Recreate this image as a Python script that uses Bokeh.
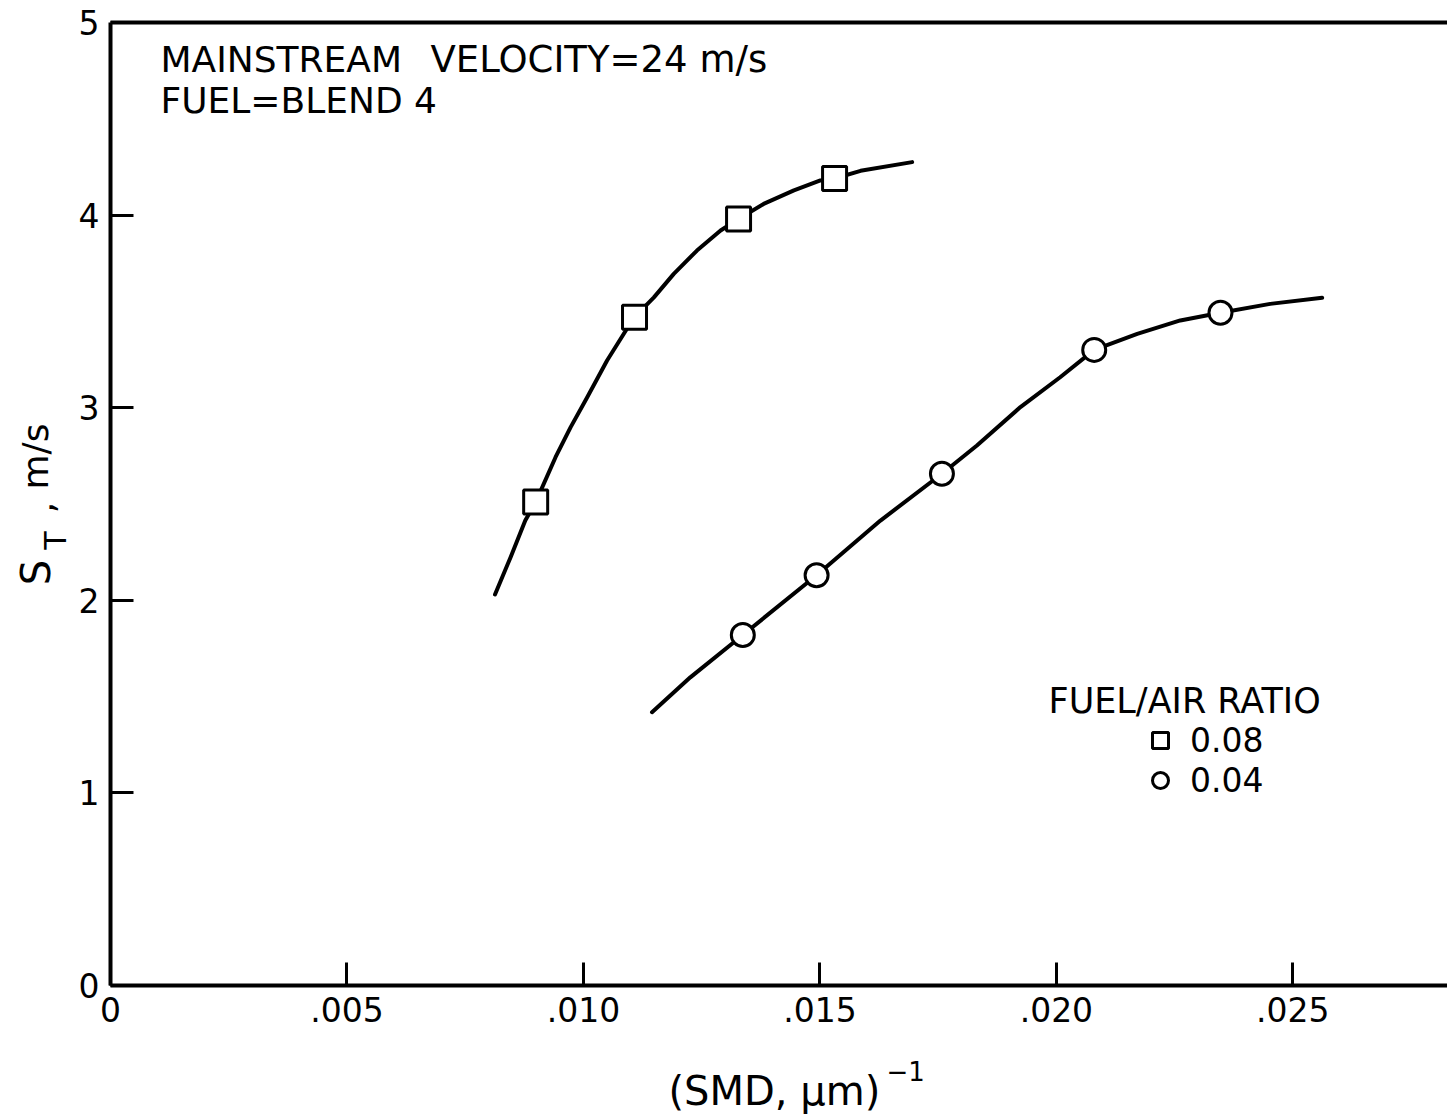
import math
from bokeh.plotting import figure
from bokeh.models import Range1d, FixedTicker, LinearAxis, Label, Legend, LegendItem
from bokeh.embed import file_html
from bokeh.resources import INLINE

# ---- data ----
# Fuel/air ratio 0.08 (squares)
sq_x = [0.00899, 0.01108, 0.01328, 0.01531]
sq_y = [2.51, 3.47, 3.98, 4.19]
sq_curve_x = [0.00813, 0.00846, 0.00877, 0.00899, 0.00941, 0.00973, 0.01006, 0.01050,
              0.01092, 0.01108, 0.01149, 0.01191, 0.01240, 0.01290, 0.01328, 0.01381,
              0.01445, 0.01501, 0.01531, 0.01586, 0.01695]
sq_curve_y = [2.03, 2.224, 2.414, 2.51, 2.743, 2.899, 3.045, 3.245,
              3.41, 3.47, 3.573, 3.695, 3.816, 3.92, 3.98, 4.058,
              4.128, 4.18, 4.19, 4.23, 4.275]

# Fuel/air ratio 0.04 (circles)
ci_x = [0.01337, 0.01493, 0.01758, 0.02080, 0.02347]
ci_y = [1.82, 2.13, 2.657, 3.30, 3.493]
ci_curve_x = [0.01145, 0.01226, 0.01337, 0.01493, 0.01628, 0.01758, 0.01832, 0.01924,
              0.02008, 0.02080, 0.02171, 0.02262, 0.02347, 0.02452, 0.02562]
ci_curve_y = [1.419, 1.60, 1.82, 2.13, 2.414, 2.657, 2.804, 3.003,
              3.158, 3.30, 3.383, 3.453, 3.493, 3.539, 3.571]

x_ticks = [0.0, 0.005, 0.010, 0.015, 0.020, 0.025]
x_tick_labels = ["0", ".005", ".010", ".015", ".020", ".025"]
y_ticks = [0, 1, 2, 3, 4, 5]
y_tick_labels = ["0", "1", "2", "3", "4", "5"]

series_labels = ["0.08", "0.04"]
legend_title = "FUEL/AIR RATIO"
note_line1 = ["MAINSTREAM", "VELOCITY=24 m/s"]
note_line2 = "FUEL=BLEND 4"
x_title = ["(SMD,  \u03bcm)", "\u22121"]
y_title = ["S", "T", ",", "m/s"]

X_MAX = 0.02827
Y_MAX = 5.0

# ---- layout (pixels) ----
W, H = 1447, 1114
LEFT, TOP, BOTTOM = 110, 22, 985          # where x=0, y=5 and y=0 sit on the canvas
SX = (W - LEFT) / X_MAX                    # px per x unit
SY = (BOTTOM - TOP) / Y_MAX                # px per y unit


def dx(px):
    return (px - LEFT) / SX


def dy(py):
    return (BOTTOM - py) / SY


FONT = "DejaVu Sans"

p = figure(width=W, height=H, output_backend="svg", toolbar_location=None,
           x_range=Range1d(dx(0), dx(W)), y_range=Range1d(dy(H), dy(0)),
           min_border_left=0, min_border_right=0, min_border_top=0,
           min_border_bottom=0, x_axis_location="below", y_axis_location="left")
p.outline_line_color = None
p.grid.visible = False
p.background_fill_color = "white"
p.border_fill_color = "white"

xa, ya = p.xaxis[0], p.yaxis[0]
xa.fixed_location = 0
ya.fixed_location = 0
xa.bounds = (0, X_MAX)
ya.bounds = (0, Y_MAX)
for ax in (xa, ya):
    ax.axis_line_width = 4
    ax.axis_line_color = "black"
    ax.major_tick_in = 23
    ax.major_tick_out = 0
    ax.major_tick_line_width = 3
    ax.minor_tick_line_color = None
    ax.major_label_text_font = FONT
    ax.major_label_text_font_size = "33px"
    ax.major_label_text_color = "black"
    ax.major_label_standoff = 11

xa.ticker = FixedTicker(ticks=x_ticks)
xa.major_label_overrides = dict(zip(x_ticks, x_tick_labels))
ya.ticker = FixedTicker(ticks=y_ticks)
ya.major_label_overrides = dict(zip(y_ticks, y_tick_labels))

top = LinearAxis(ticker=FixedTicker(ticks=[]), axis_line_width=4, axis_line_color="black",
                 major_tick_line_color=None, minor_tick_line_color=None,
                 major_label_text_color=None, fixed_location=Y_MAX, bounds=(0, X_MAX))
p.add_layout(top, "above")

# curves
p.line(sq_curve_x, sq_curve_y, line_width=4, line_color="black", line_join="round", line_cap="round")
p.line(ci_curve_x, ci_curve_y, line_width=4, line_color="black", line_join="round", line_cap="round")

r_sq = p.scatter(sq_x, sq_y, marker="square", size=24, fill_color="white",
                 line_color="black", line_width=3)
r_ci = p.scatter(ci_x, ci_y, marker="circle", size=23, fill_color="white",
                 line_color="black", line_width=3)

# legend (location measured from the frame's lower-left corner = canvas lower-left)
legend = Legend(items=[LegendItem(label=series_labels[0], renderers=[r_sq]),
                       LegendItem(label=series_labels[1], renderers=[r_ci])],
                location=(1136, H - 800), orientation="vertical",
                glyph_width=48, glyph_height=40, spacing=0, padding=0, margin=0,
                label_standoff=6, label_text_font=FONT, label_text_font_size="33px",
                label_text_color="black",
                border_line_color=None, background_fill_alpha=0)
p.add_layout(legend, "center")

p.add_layout(Label(x=dx(1048), y=dy(700), text=legend_title,
                   text_font=FONT, text_font_size="35px", text_baseline="middle",
                   text_color="black"))

# annotation text
p.add_layout(Label(x=dx(160), y=dy(59), text=note_line1[0],
                   text_font=FONT, text_font_size="36px", text_baseline="middle",
                   text_color="black"))
p.add_layout(Label(x=dx(430), y=dy(59), text=note_line1[1],
                   text_font=FONT, text_font_size="37px", text_baseline="middle",
                   text_color="black"))
p.add_layout(Label(x=dx(160), y=dy(100), text=note_line2,
                   text_font=FONT, text_font_size="36px", text_baseline="middle",
                   text_color="black"))

# x-axis title with superscript
p.add_layout(Label(x=dx(668), y=dy(1090), text=x_title[0],
                   text_font=FONT, text_font_size="40px", text_align="left",
                   text_baseline="middle", text_color="black"))
p.add_layout(Label(x=dx(886), y=dy(1070), text=x_title[1],
                   text_font=FONT, text_font_size="26px", text_align="left",
                   text_baseline="middle", text_color="black"))

# y-axis title (S with subscript T), rotated
p.add_layout(Label(x=dx(35), y=dy(572), text=y_title[0],
                   text_font=FONT, text_font_size="40px", text_align="center",
                   text_baseline="middle", angle=math.pi / 2, text_color="black"))
p.add_layout(Label(x=dx(55), y=dy(540), text=y_title[1],
                   text_font=FONT, text_font_size="30px", text_align="center",
                   text_baseline="middle", angle=math.pi / 2, text_color="black"))
p.add_layout(Label(x=dx(40), y=dy(507), text=y_title[2],
                   text_font=FONT, text_font_size="36px", text_align="center",
                   text_baseline="middle", angle=math.pi / 2, text_color="black"))
p.add_layout(Label(x=dx(35), y=dy(456), text=y_title[3],
                   text_font=FONT, text_font_size="36px", text_align="center",
                   text_baseline="middle", angle=math.pi / 2, text_color="black"))

open("out.html", "w").write(file_html(p, INLINE))
